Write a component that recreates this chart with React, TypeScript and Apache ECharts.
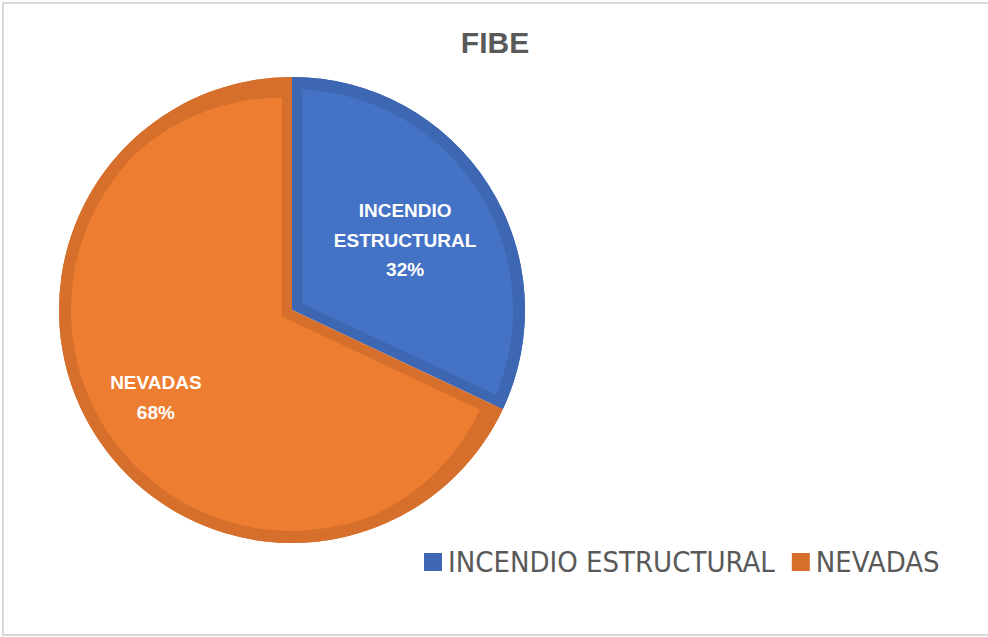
import React, { useEffect, useRef } from "react";
import * as echarts from "echarts";

const title = "FIBE";
const categories = ["INCENDIO ESTRUCTURAL", "NEVADAS"];
const values = [32, 68];
const lightColors = ["#4472C4", "#ED7D31"];
const darkColors = ["#3E67B3", "#D66F2B"];

const NARROW = '"Liberation Sans Narrow", "Arial Narrow", "DejaVu Sans Condensed", sans-serif';

export default function App() {
  const ref = useRef<HTMLDivElement>(null);
  useEffect(() => {
    if (!ref.current) return;
    const chart = echarts.init(ref.current, null, { renderer: "svg" });
    const center = [292, 310];
    const labelShift = [
      [8, -3],
      [-31, 21],
    ];
    const baseData = categories.map((name, i) => ({
      name,
      value: values[i],
      itemStyle: { color: darkColors[i] },
    }));
    const lightData = categories.map((name, i) => ({
      name,
      value: values[i],
      selected: true,
      itemStyle: { color: lightColors[i] },
      select: { itemStyle: { color: lightColors[i] } },
    }));
    chart.setOption({
      animation: false,
      backgroundColor: "#ffffff",
      title: {
        text: title,
        left: 495,
        textAlign: "center",
        top: 27,
        padding: 0,
        textStyle: {
          fontFamily: '"Liberation Sans", Arial, sans-serif',
          fontWeight: "bold",
          fontSize: 30,
          color: "#595959",
        },
      },
      legend: {
        data: categories.map((name, i) => ({ name, itemStyle: { color: darkColors[i] } })),
        left: 424,
        top: 545,
        padding: 0,
        icon: "rect",
        itemWidth: 18,
        itemHeight: 18,
        itemGap: 17,
        selectedMode: false,
        textStyle: {
          fontFamily: NARROW,
          fontSize: 29,
          lineHeight: 34,
          color: "#595959",
          padding: [0, 0, 0, 1],
        },
      },
      graphic: [
        {
          type: "rect",
          shape: { x: 3, y: 3, width: 1000, height: 632 },
          style: { fill: "none", stroke: "#D9D9D9", lineWidth: 2 },
          silent: true,
        },
      ],
      series: [
        {
          type: "pie",
          center,
          radius: 233,
          startAngle: 90,
          clockwise: true,
          silent: true,
          label: { show: false },
          labelLine: { show: false },
          emphasis: { disabled: true },
          data: baseData,
        },
        {
          type: "pie",
          center,
          radius: 219,
          startAngle: 90,
          clockwise: true,
          silent: true,
          selectedMode: "multiple",
          selectedOffset: 12,
          emphasis: { disabled: true },
          labelLine: { show: false },
          label: {
            show: true,
            position: "inside",
            color: "#ffffff",
            fontFamily: '"Liberation Sans", Arial, sans-serif',
            fontWeight: "bold",
            fontSize: 19,
            lineHeight: 29.5,
            align: "center",
            formatter: (p: any) => p.name.split(" ").join("\n") + "\n" + Math.round(p.percent) + "%",
          },
          labelLayout: (p: any) => ({
            dx: labelShift[p.dataIndex][0],
            dy: labelShift[p.dataIndex][1],
          }),
          data: lightData,
        },
        {
          type: "pie",
          center,
          radius: [221, 233],
          startAngle: 90,
          clockwise: true,
          silent: true,
          label: { show: false },
          labelLine: { show: false },
          emphasis: { disabled: true },
          data: baseData,
        },
      ],
    });
    return () => chart.dispose();
  }, []);
  return (
    <div
      ref={ref}
      style={{ position: "fixed", left: 0, top: 0, width: 988, height: 637 }}
    />
  );
}
